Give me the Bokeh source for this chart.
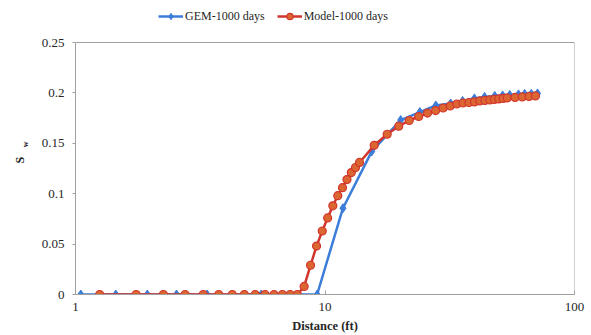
import math
from bokeh.plotting import figure
from bokeh.layouts import row
from bokeh.models import FixedTicker, Legend, LegendItem, Label
from bokeh.embed import file_html
from bokeh.resources import INLINE

# ---- data ----
gem_x = [1.05, 1.45, 1.94, 2.54, 3.37, 5.55, 9.3, 11.8, 15.4, 20.1, 24.0, 27.8,
         31.9, 35.6, 39.7, 43.6, 47.9, 51.5, 55.0, 59.6, 63.1, 67.1, 71.1]
gem_y = [0, 0, 0, 0, 0, 0, 0, 0.0856, 0.142, 0.173, 0.181, 0.1875,
         0.1895, 0.192, 0.1945, 0.196, 0.197, 0.1975, 0.198, 0.1985, 0.199, 0.199, 0.1995]

model_x = [1.25, 1.75, 2.25, 2.75, 3.25, 3.75, 4.25, 4.75, 5.25, 5.75, 6.25, 6.75,
           7.25, 7.75, 8.25, 8.75, 9.25, 9.75, 10.25, 10.75, 11.25, 11.75, 12.25,
           12.75, 13.25, 13.75, 15.75, 17.75, 19.75, 21.75, 23.75, 25.75, 27.75,
           29.75, 31.75, 33.75, 35.75, 37.75, 39.75, 41.75, 43.75, 45.75, 47.75,
           49.75, 51.75, 53.75, 57.75, 61.75, 65.75, 69.75]
model_y = [0, 0, 0, 0, 0, 0, 0, 0, 0, 0, 0, 0,
           0, 0, 0.008, 0.029, 0.048, 0.063, 0.076, 0.088, 0.098, 0.106, 0.114,
           0.121, 0.126, 0.131, 0.148, 0.159, 0.167, 0.1726, 0.1766, 0.180, 0.1825,
           0.185, 0.187, 0.189, 0.190, 0.1905, 0.191, 0.192, 0.1925, 0.193, 0.1935,
           0.194, 0.1945, 0.195, 0.1955, 0.196, 0.1965, 0.197]

series_names = ["GEM-1000 days", "Model-1000 days"]
x_ticks = [1, 10, 100]
x_tick_labels = ["1", "10", "100"]
y_ticks = [0, 0.05, 0.1, 0.15, 0.2, 0.25]
y_tick_labels = ["0", "0.05", "0.1", "0.15", "0.2", "0.25"]
x_title = "Distance (ft)"
y_title_main = "S"
y_title_sub = "w"

FONT = "'Liberation Serif', 'Times New Roman', serif"
TXT = "#262626"
GRAY = "#A0A0A0"
BLUE = "#3C7DD9"
RED = "#D2352D"
ORANGE = "#DC6631"

W, H = 591, 335
TITLE_W = 38          # narrow strip on the left holding the y title
BOX_H = 252           # plot box height
TOP_PAD = 42          # room above the plot box (kept inside the frame for the legend)
BOTTOM = 41

# ---------- left strip with the y-axis title "S" + subscript "w" ----------
t = figure(width=TITLE_W, height=H, x_range=(0, TITLE_W), y_range=(0, H),
           x_axis_location=None, y_axis_location=None,
           min_border=0, output_backend="svg", toolbar_location=None)
t.grid.visible = False
t.outline_line_color = None
t.background_fill_color = "white"
t.border_fill_color = "white"
t.add_layout(Label(x=19, y=H - 182, text=y_title_main, angle=math.pi / 2,
                   text_align="center", text_baseline="middle",
                   text_font=FONT, text_font_size="12px", text_font_style="bold",
                   text_color=TXT))
t.add_layout(Label(x=24.5, y=H - 164, text=y_title_sub, angle=math.pi / 2,
                   text_align="center", text_baseline="middle",
                   text_font=FONT, text_font_size="8px", text_font_style="bold",
                   text_color=TXT))

# ---------- main chart ----------
x_lo, x_hi = x_ticks[0], x_ticks[-1]
y_lo, y_hi = y_ticks[0], y_ticks[-1]
y_frame_top = y_hi * (BOX_H + TOP_PAD) / BOX_H

p = figure(x_axis_type="log", x_range=(x_lo, x_hi), y_range=(y_lo, y_frame_top),
           width=W - TITLE_W, height=H,
           min_border_left=74 - TITLE_W, min_border_right=17, min_border_top=0,
           min_border_bottom=BOTTOM,
           output_backend="svg", toolbar_location=None)

p.xgrid.visible = False
p.ygrid.visible = False
p.outline_line_color = None
p.background_fill_color = "white"
p.border_fill_color = "white"

# plot box (top and right edges)
p.segment(x0=[x_lo, x_hi], y0=[y_hi, y_lo], x1=[x_hi, x_hi], y1=[y_hi, y_hi],
          line_color=GRAY, line_width=1)

# x axis
xa = p.xaxis[0]
xa.ticker = FixedTicker(ticks=x_ticks, minor_ticks=[])
xa.major_label_overrides = {tk: lb for tk, lb in zip(x_ticks, x_tick_labels)}
xa.axis_line_color = GRAY
xa.major_tick_line_color = GRAY
xa.major_tick_in = 4
xa.major_tick_out = 0
xa.minor_tick_line_color = None
xa.major_label_standoff = 8
xa.major_label_text_font = FONT
xa.major_label_text_font_size = "13px"
xa.major_label_text_color = TXT
xa.axis_label = x_title
xa.axis_label_text_font = FONT
xa.axis_label_text_font_size = "12.5px"
xa.axis_label_text_font_style = "bold"
xa.axis_label_text_color = TXT
xa.axis_label_standoff = 5

# y axis ticks
ya = p.yaxis[0]
ya.ticker = FixedTicker(ticks=y_ticks, minor_ticks=[])
ya.major_label_overrides = {tk: lb for tk, lb in zip(y_ticks, y_tick_labels)}
ya.bounds = (y_lo, y_hi)
ya.axis_line_color = GRAY
ya.major_tick_line_color = GRAY
ya.major_tick_in = 0
ya.major_tick_out = 3
ya.minor_tick_line_color = None
ya.major_label_standoff = 8
ya.major_label_text_font = FONT
ya.major_label_text_font_size = "13px"
ya.major_label_text_color = TXT

# series
gl = p.line(gem_x, gem_y, line_color=BLUE, line_width=2.5)
gm = p.scatter(gem_x, gem_y, marker="diamond", size=9,
               fill_color=BLUE, line_color=BLUE)
ml = p.line(model_x, model_y, line_color=RED, line_width=2.5)
mm = p.scatter(model_x, model_y, marker="circle", size=8, fill_color=ORANGE,
               line_color=RED, line_width=1.2)

legend = Legend(items=[LegendItem(label=series_names[0], renderers=[gl, gm]),
                       LegendItem(label=series_names[1], renderers=[ml, mm])],
                orientation="horizontal", location=(81, 268),
                glyph_width=25, glyph_height=16, label_height=16, label_standoff=2,
                spacing=12, padding=2, margin=0,
                label_text_font=FONT, label_text_font_size="12px", label_text_color=TXT,
                background_fill_alpha=0, border_line_alpha=0)
p.add_layout(legend, "center")

layout = row(t, p, spacing=0)
open("out.html", "w").write(file_html(layout, INLINE))
